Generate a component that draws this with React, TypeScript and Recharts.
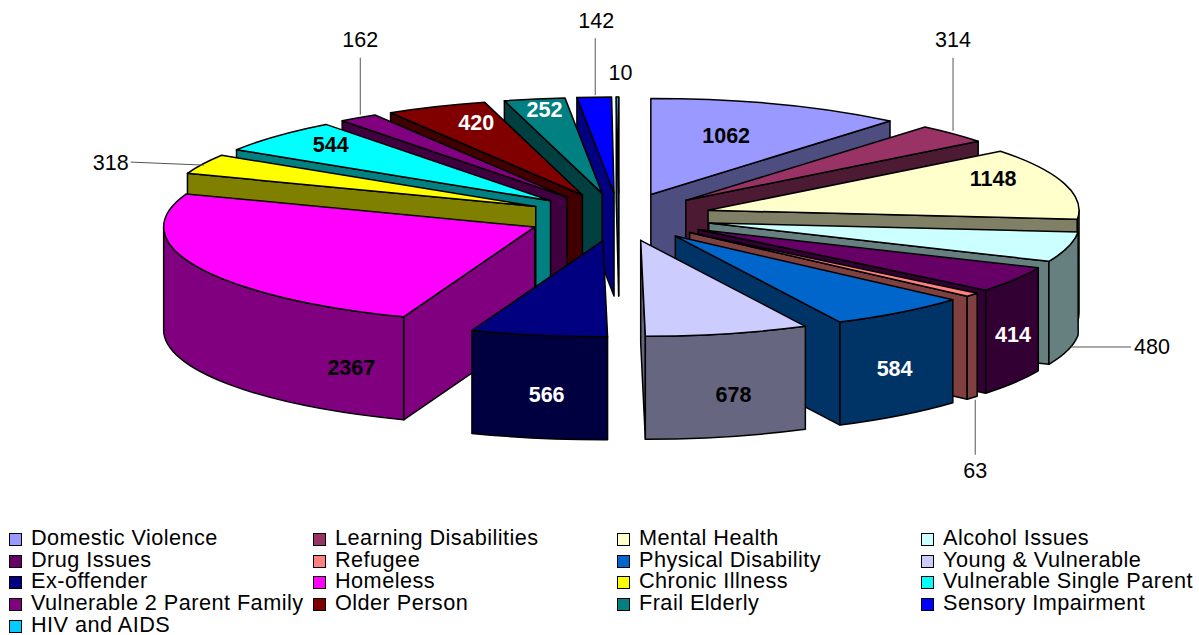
import React from 'react';
import { PieChart, Pie, Legend } from 'recharts';

const categories = [
  'Domestic Violence', 'Learning Disabilities', 'Mental Health', 'Alcohol Issues',
  'Drug Issues', 'Refugee', 'Physical Disability', 'Young & Vulnerable',
  'Ex-offender', 'Homeless', 'Chronic Illness', 'Vulnerable Single Parent',
  'Vulnerable 2 Parent Family', 'Older Person', 'Frail Elderly', 'Sensory Impairment',
  'HIV and AIDS',
];
const values = [1062, 314, 1148, 480, 414, 63, 584, 678, 566, 2367, 318, 544, 162, 420, 252, 142, 10];
const colors = [
  '#9999FF', '#993366', '#FFFFCC', '#CCFFFF', '#660066', '#FF8080', '#0066CC', '#CCCCFF',
  '#000080', '#FF00FF', '#FFFF00', '#00FFFF', '#800080', '#800000', '#008080', '#0000FF',
  '#00CCFF',
];

// back to front, so nearer slices cover the walls behind them
const drawOrder = [16, 0, 15, 1, 14, 2, 13, 3, 12, 4, 11, 5, 10, 6, 9, 7, 8];

// label centre relative to the middle of the slice's rim
const labelOffsets = [
  [-52, 31], [0, -95], [-71, -5], [84, 99], [-2, 55], [3, 175], [-6, 56], [6, 60], [8, 59],
  [154, 100], [-92, -2], [54, 8], [2, -79], [40, 15], [10, 10], [2, -77], [3, -25],
];
const whiteLabels = [4, 6, 8, 13, 14];
const insideLabels = [0, 2, 4, 6, 7, 8, 9, 11, 13, 14];
const leaders: Record<number, number[][]> = {
  1: [[0, -76], [0, -3]],
  3: [[63, 100], [3, 100]],
  5: [[3, 160], [3, 105]],
  10: [[-72, -2], [1, 1]],
  12: [[2, -60], [2, -3]],
  15: [[1, -59], [1, -2]],
};

const WIDTH = 1199;
const HEIGHT = 635;
const CX = 619;
const CY = 217;
const RX = 371;
const SQUASH = 96 / 371;
const DEPTH = 103;
const EXPLODE = 0.25;
const FONT = '"Liberation Sans", Arial, sans-serif';

const total = values.reduce((a, b) => a + b, 0);
const rows = categories.map((name, i) => ({ name, value: values[i], fill: colors[i] }));
const startOf = (i: number) => (values.slice(0, i).reduce((a, b) => a + b, 0) / total) * 360;

const rad = (deg: number) => (deg * Math.PI) / 180;

const darken = (hex: string) => {
  const n = parseInt(hex.slice(1), 16);
  const half = (c: number) => Math.round(c / 2).toString(16).padStart(2, '0');
  return `#${half((n >> 16) & 255)}${half((n >> 8) & 255)}${half(n & 255)}`;
};

// theta is clockwise from 12 o'clock
const rim = (cx: number, cy: number, r: number, theta: number) => ({
  x: cx + r * Math.sin(rad(theta)),
  y: cy - r * SQUASH * Math.cos(rad(theta)),
});

const SliceShape = (props: any) => {
  const { cx, cy, outerRadius: r, startAngle, endAngle, fill } = props;
  const s = 90 - startAngle;
  const e = 90 - endAngle;
  const apex = rim(cx, cy, r * EXPLODE, (s + e) / 2);
  const p1 = rim(apex.x, apex.y, r, s);
  const p2 = rim(apex.x, apex.y, r, e);
  const ry = r * SQUASH;
  const side = darken(fill);
  const line = { stroke: '#000', strokeWidth: 1.5, strokeLinejoin: 'round' as const };

  const wall = (a: { x: number; y: number }, b: { x: number; y: number }) => (
    <path
      d={`M${a.x},${a.y}L${b.x},${b.y}L${b.x},${b.y + DEPTH}L${a.x},${a.y + DEPTH}Z`}
      fill={side}
      {...line}
    />
  );

  const arcFrom = Math.max(s, 90);
  const arcTo = Math.min(e, 270);
  let outer = null;
  if (arcTo > arcFrom) {
    const a = rim(apex.x, apex.y, r, arcFrom);
    const b = rim(apex.x, apex.y, r, arcTo);
    const large = arcTo - arcFrom > 180 ? 1 : 0;
    outer = (
      <path
        d={`M${a.x},${a.y}A${r},${ry} 0 ${large} 1 ${b.x},${b.y}L${b.x},${b.y + DEPTH}A${r},${ry} 0 ${large} 0 ${a.x},${a.y + DEPTH}Z`}
        fill={side}
        {...line}
      />
    );
  }

  return (
    <g>
      {Math.sin(rad(s)) < 0 && wall(apex, p1)}
      {Math.sin(rad(e)) > 0 && wall(apex, p2)}
      {outer}
      <path
        d={`M${apex.x},${apex.y}L${p1.x},${p1.y}A${r},${ry} 0 ${e - s > 180 ? 1 : 0} 1 ${p2.x},${p2.y}Z`}
        fill={fill}
        {...line}
      />
    </g>
  );
};

const renderLabel = (props: any) => {
  const { cx, cy, outerRadius: r, midAngle, index, value } = props;
  const anchor = rim(cx, cy, r * (1 + EXPLODE), 90 - midAngle);
  const [dx, dy] = labelOffsets[index];
  const inside = insideLabels.includes(index);
  const leader = leaders[index];
  return (
    <g key={index}>
      {leader && (
        <line
          x1={anchor.x + leader[0][0]}
          y1={anchor.y + leader[0][1]}
          x2={anchor.x + leader[1][0]}
          y2={anchor.y + leader[1][1]}
          stroke="#555"
          strokeWidth={1}
        />
      )}
      <text
        x={anchor.x + dx}
        y={anchor.y + dy + 1}
        textAnchor="middle"
        dominantBaseline="central"
        fontFamily={FONT}
        fontSize={21.5}
        fontWeight={inside ? 700 : 400}
        fill={whiteLabels.includes(index) ? '#fff' : '#000'}
      >
        {value}
      </text>
    </g>
  );
};

const LegendGrid = () => (
  <div
    style={{
      display: 'grid',
      gridTemplateColumns: 'repeat(4, 304px)',
      gridAutoRows: '21.7px',
      fontFamily: FONT,
      fontSize: 21.7,
      letterSpacing: 0.45,
      color: '#000',
    }}
  >
    {categories.map((name, i) => (
      <div key={name} style={{ display: 'flex', alignItems: 'center', whiteSpace: 'nowrap', lineHeight: '21.7px' }}>
        <span
          style={{
            width: 11,
            height: 11,
            marginRight: 9,
            marginTop: 3,
            background: colors[i],
            border: '1px solid #000',
            flex: 'none',
          }}
        />
        {name}
      </div>
    ))}
  </div>
);

export default function App() {
  return (
    <div style={{ position: 'absolute', left: 0, top: 0, width: WIDTH, height: HEIGHT, background: '#fff' }}>
      <PieChart width={WIDTH} height={HEIGHT} margin={{ top: 0, right: 0, bottom: 0, left: 0 }}>
        {drawOrder.map((i) => (
          <Pie
            key={categories[i]}
            data={[rows[i]]}
            dataKey="value"
            nameKey="name"
            cx={CX}
            cy={CY}
            outerRadius={RX}
            startAngle={90 - startOf(i)}
            endAngle={90 - startOf(i + 1)}
            shape={SliceShape}
            stroke="none"
            legendType="none"
            isAnimationActive={false}
          />
        ))}
        {/* full pie with no visible sectors, only there to carry the value labels on top */}
        <Pie
          data={rows}
          dataKey="value"
          nameKey="name"
          cx={CX}
          cy={CY}
          outerRadius={RX}
          startAngle={90}
          endAngle={-270}
          shape={() => <g />}
          label={renderLabel}
          labelLine={false}
          legendType="none"
          isAnimationActive={false}
        />
        <Legend
          content={<LegendGrid />}
          wrapperStyle={{ position: 'absolute', left: 9, top: 527, width: 1190, bottom: 'auto' }}
        />
      </PieChart>
    </div>
  );
}
